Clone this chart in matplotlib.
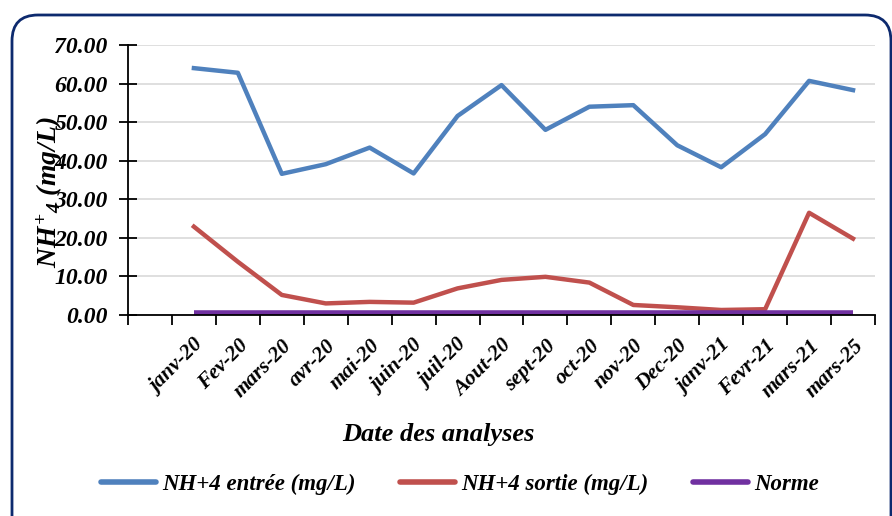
import numpy as np
import matplotlib.pyplot as plt
from matplotlib.patches import FancyBboxPatch
from matplotlib.transforms import IdentityTransform

plt.rcParams['font.family'] = ['Liberation Serif', 'DejaVu Serif']
plt.rcParams['font.weight'] = 'bold'
plt.rcParams['font.style'] = 'italic'
plt.rcParams['mathtext.fontset'] = 'custom'
plt.rcParams['mathtext.bfit'] = 'Liberation Serif:bold:italic'
plt.rcParams['mathtext.bf'] = 'Liberation Serif:bold:italic'
plt.rcParams['mathtext.it'] = 'Liberation Serif:bold:italic'
plt.rcParams['mathtext.rm'] = 'Liberation Serif:bold:italic'

# monthly sampling dates (first category left blank)
dates = ["", "janv-20", "Fev-20", "mars-20", "avr-20", "mai-20", "juin-20",
         "juil-20", "Aout-20", "sept-20", "oct-20", "nov-20", "Dec-20",
         "janv-21", "Fevr-21", "mars-21", "mars-25"]
nh4_in = [64.0, 62.8, 36.6, 39.1, 43.4, 36.7, 51.6, 59.6, 48.0, 54.0,
          54.4, 44.0, 38.3, 46.9, 60.7, 58.3]
nh4_out = [22.9, 13.8, 5.2, 3.0, 3.4, 3.2, 6.9, 9.1, 9.9, 8.4,
           2.6, 2.0, 1.3, 1.5, 26.5, 19.8]
norme = [0.5] * 16

W, H = 892, 516
fig = plt.figure(figsize=(W / 100, H / 100), dpi=100)

# rounded frame around the whole chart
frame = FancyBboxPatch((12, -30), 879, H - 15 + 30,
                       boxstyle="round,pad=0,rounding_size=26",
                       transform=IdentityTransform(), fill=False,
                       edgecolor="#0d2a6e", linewidth=2.0)
fig.patches.append(frame)

ax = fig.add_axes([128 / W, 1 - 315 / H, 747 / W, 270 / H])

x = np.arange(1, len(dates))
ax.plot(x, nh4_in, color="#4F81BD", lw=3.2, label="NH+4 entrée (mg/L)")
ax.plot(x, nh4_out, color="#C0504D", lw=3.2, label="NH+4 sortie (mg/L)")
ax.plot(x, norme, color="#7030A0", lw=4, label="Norme", solid_capstyle="butt")

ax.set_xlim(-0.5, len(dates) - 0.5)
ax.set_ylim(0, 70)
ax.set_yticks(np.arange(0, 71, 10))
ax.set_yticklabels([f"{v:.2f}" for v in np.arange(0, 71, 10)], fontsize=17)
ax.yaxis.grid(True, color="#d9d9d9", lw=1.2)
ax.set_axisbelow(True)

# category boundaries as major ticks, names on minor ticks
ax.set_xticks(np.arange(-0.5, len(dates), 1.0))
ax.set_xticklabels([])
ax.set_xticks(np.arange(len(dates)), minor=True)
ax.set_xticklabels(dates, minor=True, rotation=45, ha="right", va="top",
                   rotation_mode="anchor", fontsize=15.5)
ax.tick_params(axis="x", which="major", direction="out", length=7, width=1.3)
ax.tick_params(axis="x", which="minor", length=0, pad=15)
ax.tick_params(axis="y", direction="inout", length=13, width=1.3, pad=8)

for side in ("top", "right"):
    ax.spines[side].set_visible(False)
ax.spines["left"].set_linewidth(1.3)
ax.spines["bottom"].set_linewidth(1.3)

fig.text(438 / W, 1 - 435 / H, "Date des analyses", ha="center", va="center",
         fontsize=19)
fig.text(50 / W, 1 - 192 / H, r"$NH^{+}{}_{4}$ (mg/L)", rotation=90,
         ha="center", va="center", fontsize=20)

leg = fig.legend(loc="center", bbox_to_anchor=(460 / W, 1 - 484 / H), ncol=3,
                 frameon=False, fontsize=16.5, handlelength=2.4,
                 handletextpad=0.25, columnspacing=1.95)
for line in leg.get_lines():
    line.set_solid_capstyle("round")
    line.set_linewidth(4)

fig.savefig("out.png", dpi=100)
